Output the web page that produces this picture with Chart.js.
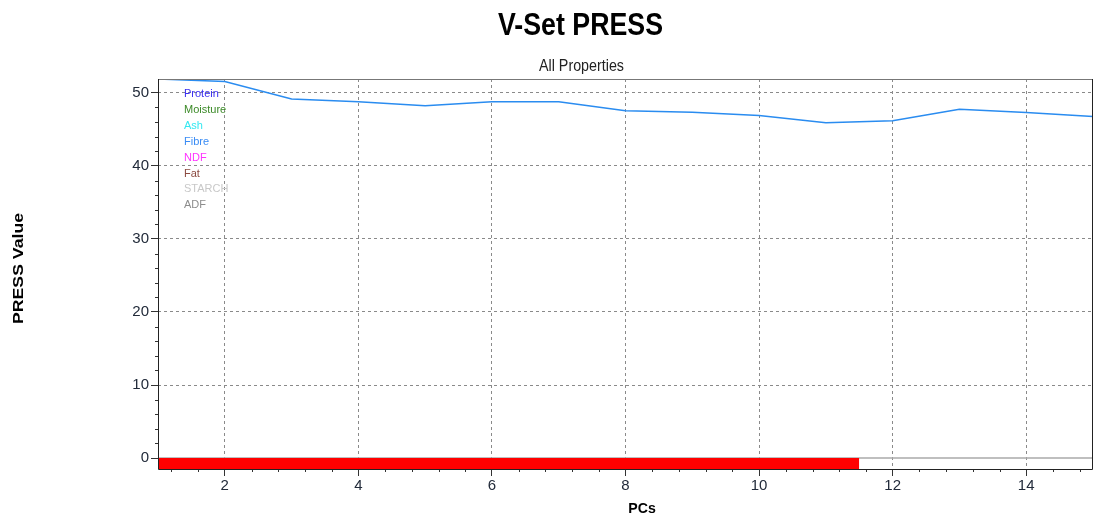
<!DOCTYPE html>
<html lang="en">
<head>
  <meta charset="UTF-8" />
  <title>V-Set PRESS</title>
  <script src="https://cdn.jsdelivr.net/npm/chart.js"></script>
  <style>
    body { margin: 0; background: #fff; }
    canvas { display: block; }
  </style>
</head>
<body>
<canvas id="pressChart" width="1096" height="521"></canvas>

<script>
  // values
  const pcs = [1, 2, 3, 4, 5, 6, 7, 8, 9, 10, 11, 12, 13, 14, 15];
  const pressValues = [51.9, 51.55, 49.15, 48.8, 48.25, 48.8, 48.8, 47.55, 47.35, 46.9, 45.9, 46.2, 47.75, 47.3, 46.75];
  const properties = ['Protein', 'Moisture', 'Ash', 'Fibre', 'NDF', 'Fat', 'STARCH', 'ADF'];
  const propColors = ['#3a2ff0', '#3c8a28', '#33e8f0', '#3a8cf5', '#ff33ff', '#8b4a40', '#c8c8c8', '#8c8c8c'];
  const optimalRange = [1, 11.5];   // red bar
  const xRange = [1, 15];
  const yRange = [-1.5, 51.9];
  const xMajor = [2, 4, 6, 8, 10, 12, 14];
  const yMajor = [0, 10, 20, 30, 40, 50];

  // minor tick positions: every 0.4 on x, every 2 on y
  const xTicks = [];
  for (let k = 3; k <= 37; k++) xTicks.push(+(k * 0.4).toFixed(1));
  const yTicks = [];
  for (let v = 0; v <= 50; v += 2) yTicks.push(v);

  const near = (v, list) => list.some(m => Math.abs(v - m) < 1e-6);

  function fitText(ctx, text, x, y, font, width, color, rotate) {
    ctx.save();
    ctx.font = font;
    ctx.fillStyle = color;
    const w = ctx.measureText(text).width;
    ctx.translate(x, y);
    if (rotate) ctx.rotate(-Math.PI / 2);
    ctx.scale(width / w, 1);
    ctx.textAlign = 'center';
    ctx.textBaseline = 'alphabetic';
    ctx.fillText(text, 0, 0);
    ctx.restore();
  }

  const decorations = {
    id: 'decorations',
    afterDraw(chart) {
      const ctx = chart.ctx;
      const a = chart.chartArea;
      const xs = chart.scales.x, ys = chart.scales.y;

      // minor ticks
      ctx.save();
      ctx.strokeStyle = '#333';
      ctx.lineWidth = 1;
      ctx.beginPath();
      ys.ticks.forEach(t => {
        if (!near(t.value, yMajor)) {
          const py = Math.round(ys.getPixelForValue(t.value)) + 0.5;
          ctx.moveTo(a.left - 3, py); ctx.lineTo(a.left, py);
        }
      });
      xs.ticks.forEach(t => {
        if (!near(t.value, xMajor)) {
          const px = Math.round(xs.getPixelForValue(t.value)) + 0.5;
          ctx.moveTo(px, a.bottom); ctx.lineTo(px, a.bottom + 3);
        }
      });
      ctx.stroke();

      // frame
      ctx.beginPath();
      ctx.strokeStyle = '#777';
      ctx.moveTo(a.left, a.top + 0.5); ctx.lineTo(a.right, a.top + 0.5);
      ctx.stroke();
      ctx.beginPath();
      ctx.strokeStyle = '#222';
      ctx.moveTo(a.left + 0.5, a.top); ctx.lineTo(a.left + 0.5, a.bottom + 0.5);
      ctx.lineTo(a.right - 0.5, a.bottom + 0.5); ctx.lineTo(a.right - 0.5, a.top);
      ctx.stroke();
      ctx.restore();

      // titles
      fitText(ctx, 'V-Set PRESS', 580.5, 35, 'bold 32px "Liberation Sans", Arial, sans-serif', 165, '#000');
      fitText(ctx, 'All Properties', 581.5, 71, '16px "Liberation Sans", Arial, sans-serif', 85, '#222');
      fitText(ctx, 'PCs', 642, 513, 'bold 15px "Liberation Sans", Arial, sans-serif', 27.5, '#000');
      fitText(ctx, 'PRESS Value', 23, 268.5, 'bold 15px "Liberation Sans", Arial, sans-serif', 111, '#000', true);

      // property list
      ctx.save();
      ctx.font = '11px "Liberation Sans", Arial, sans-serif';
      ctx.textAlign = 'left';
      ctx.textBaseline = 'alphabetic';
      properties.forEach((p, i) => {
        ctx.fillStyle = propColors[i];
        ctx.fillText(p, 184, 97.3 + i * 15.85);
      });
      ctx.restore();
    }
  };

  Chart.defaults.font.family = '"Liberation Sans", Arial, sans-serif';

  new Chart(document.getElementById('pressChart'), {
    type: 'line',
    data: {
      datasets: [
        {
          label: 'PRESS',
          data: pcs.map((x, i) => ({ x: x, y: pressValues[i] })),
          borderColor: '#2a8cf0',
          borderWidth: 1.5,
          pointRadius: 0,
          tension: 0,
          fill: false,
          order: 0
        },
        {
          label: 'optimal',
          data: optimalRange.map(x => ({ x: x, y: 0 })),
          borderColor: '#ff0000',
          borderWidth: 0,
          backgroundColor: '#ff0000',
          pointRadius: 0,
          fill: 'start',
          order: 1
        },
        {
          label: 'zero',
          data: xRange.map(x => ({ x: x, y: 0 })),
          borderColor: '#aaaaaa',
          borderWidth: 1.5,
          pointRadius: 0,
          fill: false,
          order: 2
        }
      ]
    },
    options: {
      responsive: false,
      animation: false,
      layout: { padding: { top: 79, right: 3, left: 0, bottom: 0 } },
      plugins: {
        legend: { display: false },
        tooltip: { enabled: false },
        title: { display: false }
      },
      scales: {
        x: {
          type: 'linear',
          min: xRange[0],
          max: xRange[1],
          afterBuildTicks: s => { s.ticks = xTicks.map(v => ({ value: v })); },
          afterFit: s => { s.height = 52; },
          border: { display: false, dash: [3, 3] },
          grid: {
            color: c => (near(c.tick.value, xMajor) ? '#8a8a8a' : 'rgba(0,0,0,0)'),
            tickColor: c => (near(c.tick.value, xMajor) ? '#333' : 'rgba(0,0,0,0)'),
            tickLength: 7,
            lineWidth: 1
          },
          ticks: {
            autoSkip: false,
            maxRotation: 0,
            padding: 1,
            color: '#222b3a',
            font: { size: 15 },
            callback: v => (near(v, xMajor) ? String(Math.round(v)) : '')
          }
        },
        y: {
          type: 'linear',
          min: yRange[0],
          max: yRange[1],
          afterBuildTicks: s => { s.ticks = yTicks.map(v => ({ value: v })); },
          afterFit: s => { s.width = 158; },
          border: { display: false, dash: [3, 3] },
          grid: {
            color: c => (near(c.tick.value, yMajor) && c.tick.value !== 0 ? '#8a8a8a' : 'rgba(0,0,0,0)'),
            tickColor: c => (near(c.tick.value, yMajor) ? '#333' : 'rgba(0,0,0,0)'),
            tickLength: 7,
            lineWidth: 1
          },
          ticks: {
            autoSkip: false,
            padding: 2,
            color: '#222b3a',
            font: { size: 15 },
            callback: v => (near(v, yMajor) ? String(Math.round(v)) : '')
          }
        }
      }
    },
    plugins: [decorations]
  });
</script>
</body>
</html>
